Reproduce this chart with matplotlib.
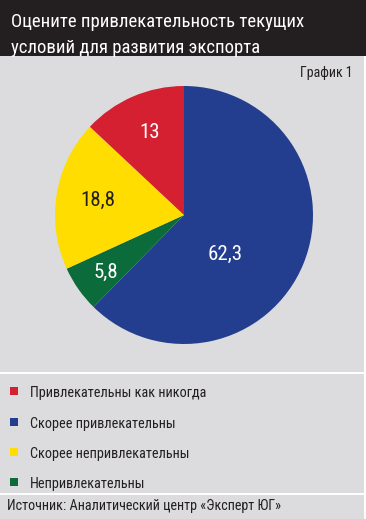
import matplotlib
matplotlib.use("Agg")
import matplotlib.pyplot as plt
from matplotlib.patches import Rectangle
import numpy as np

# Data
categories = ["Привлекательны как никогда", "Скорее привлекательны",
              "Скорее непривлекательны", "Непривлекательны"]
values = [13, 62.3, 18.8, 5.8]
value_labels = ["13", "62,3", "18,8", "5,8"]
colors = ["#d42030", "#233e8e", "#ffdd00", "#0c6b3b"]
pie_order = [1, 3, 2, 0]  # clockwise from top: blue, green, yellow, red

title_lines = ["Оцените привлекательность текущих", "условий для развития экспорта"]
chart_no = "График 1"
source = "Источник: Аналитический центр «Эксперт ЮГ»"

FONT = ["Roboto Condensed", "DejaVu Sans"]
W, H = 366, 519
BG = "#dcdcde"

fig = plt.figure(figsize=(W / 100, H / 100), dpi=100)
fig.patch.set_facecolor(BG)

def fy(y):
    return 1 - y / H

# title bar
fig.patches.append(Rectangle((0, fy(56)), 1, 56 / H, transform=fig.transFigure,
                             facecolor="#231f20", edgecolor="none", zorder=0))
for yb, line in zip((27, 53), title_lines):
    fig.text(11 / W, fy(yb), line, color="white", fontsize=13.5, family=FONT,
             va="baseline", ha="left")
fig.text(352 / W, fy(73), chart_no, color="#231f20", fontsize=10, family=FONT,
         va="center", ha="right")

# separators
for y in (373, 494):
    fig.patches.append(Rectangle((0, fy(y + 1)), 1, 2 / H, transform=fig.transFigure,
                                 facecolor="white", edgecolor="none", zorder=1))
fig.patches.append(Rectangle((364 / W, 0), 2 / W, fy(56), transform=fig.transFigure,
                             facecolor="white", edgecolor="none", zorder=1))

# pie
cx, cy, r = 184, 215, 129
ax = fig.add_axes([(cx - r) / W, (H - cy - r) / H, 2 * r / W, 2 * r / H])
ax.set_facecolor("none")
ax.axis("off")
pv = [values[i] for i in pie_order]
pc = [colors[i] for i in pie_order]
wedges, _ = ax.pie(pv, colors=pc, startangle=90, counterclock=False, radius=1,
                   wedgeprops=dict(linewidth=0))
ax.set_xlim(-1, 1)
ax.set_ylim(-1, 1)
ax.set_aspect("equal")

# label placement per wedge: (angle offset deg, radial fraction)
label_pos = {1: (-22, 0.44), 3: (1, 0.75), 2: (-0.5, 0.68), 0: (-0.9, 0.69)}
label_col = {0: "white", 1: "white", 2: "#231f20", 3: "white"}
for w, i in zip(wedges, pie_order):
    mid = (w.theta1 + w.theta2) / 2 + label_pos[i][0]
    rf = label_pos[i][1]
    ax.text(rf * np.cos(np.radians(mid)), rf * np.sin(np.radians(mid)),
            value_labels[i], ha="center", va="center", fontsize=15,
            color=label_col[i], family=FONT)

# legend
ys = [391, 422, 452, 482]
for y, c, t in zip(ys, colors, categories):
    fig.patches.append(Rectangle((10 / W, fy(y + 4)), 8 / W, 8 / H,
                                 transform=fig.transFigure, facecolor=c,
                                 edgecolor="none", zorder=2))
    fig.text(30 / W, fy(y + 6), t, color="#231f20", fontsize=10.3, family=FONT,
             va="baseline", ha="left")

fig.text(7 / W, fy(510), source, color="#231f20", fontsize=10.2, family=FONT,
         va="baseline", ha="left")

fig.savefig("out.png", dpi=100, facecolor=BG)
